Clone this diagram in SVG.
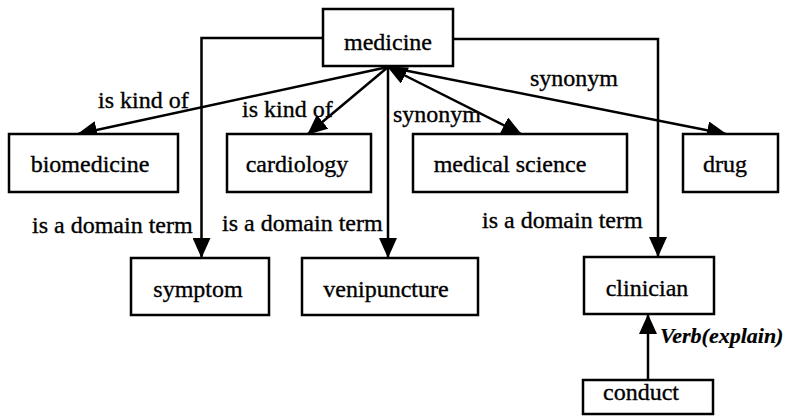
<svg xmlns="http://www.w3.org/2000/svg" width="790" height="417" viewBox="0 0 790 417">
<rect width="790" height="417" fill="#fff"/>
<marker id="ah" markerUnits="userSpaceOnUse" markerWidth="20" markerHeight="18" refX="19" refY="9" orient="auto-start-reverse">
<path d="M0,0 L20,9 L0,18 z" fill="#000"/>
</marker>
<g id="connectors" fill="none" stroke="#000" stroke-width="2.5">
<path d="M323,38 H201.5 V257" marker-end="url(#ah)"/>
<path d="M453,39 H658 V256" marker-end="url(#ah)"/>
<path d="M388,67 V257" marker-end="url(#ah)"/>
<path d="M388,67 L78,134" marker-end="url(#ah)"/>
<path d="M388,67 L308,134" marker-end="url(#ah)"/>
<path d="M388,67 L521,134" marker-start="url(#ah)" marker-end="url(#ah)"/>
<path d="M388,67 L726,134" marker-end="url(#ah)"/>
<path d="M648,380 V315" marker-end="url(#ah)"/>
</g>
<text x="98" y="108" font-family="Times New Roman" font-size="24" stroke="#000" stroke-width="0.35">is kind of</text>
<text x="242" y="117" font-family="Times New Roman" font-size="24" stroke="#000" stroke-width="0.35">is kind of</text>
<text x="393" y="122" font-family="Times New Roman" font-size="24" stroke="#000" stroke-width="0.35">synonym</text>
<text x="530" y="86" font-family="Times New Roman" font-size="24" stroke="#000" stroke-width="0.35">synonym</text>
<text x="32" y="233" font-family="Times New Roman" font-size="24" stroke="#000" stroke-width="0.35">is a domain term</text>
<text x="222" y="231" font-family="Times New Roman" font-size="24" stroke="#000" stroke-width="0.35">is a domain term</text>
<text x="482" y="228" font-family="Times New Roman" font-size="24" stroke="#000" stroke-width="0.35">is a domain term</text>
<text x="660" y="343" font-family="Times New Roman" font-style="italic" font-weight="bold" font-size="22" stroke="#000" stroke-width="0.2">Verb(explain)</text>
<g id="medicine"><rect x="323" y="9" width="130" height="57" fill="#fff" stroke="#000" stroke-width="2.5"/><text x="388" y="50" text-anchor="middle" font-family="Times New Roman" font-size="24" stroke="#000" stroke-width="0.35">medicine</text></g>
<g id="biomedicine"><rect x="9" y="134" width="169" height="58" fill="#fff" stroke="#000" stroke-width="2.5"/><text x="90" y="172" text-anchor="middle" font-family="Times New Roman" font-size="24" stroke="#000" stroke-width="0.35">biomedicine</text></g>
<g id="cardiology"><rect x="227" y="134" width="144" height="58" fill="#fff" stroke="#000" stroke-width="2.5"/><text x="297" y="172" text-anchor="middle" font-family="Times New Roman" font-size="24" stroke="#000" stroke-width="0.35">cardiology</text></g>
<g id="medical-science"><rect x="413" y="134" width="214" height="58" fill="#fff" stroke="#000" stroke-width="2.5"/><text x="510" y="172" text-anchor="middle" font-family="Times New Roman" font-size="24" stroke="#000" stroke-width="0.35">medical science</text></g>
<g id="drug"><rect x="683" y="134" width="95" height="58" fill="#fff" stroke="#000" stroke-width="2.5"/><text x="725" y="172" text-anchor="middle" font-family="Times New Roman" font-size="24" stroke="#000" stroke-width="0.35">drug</text></g>
<g id="symptom"><rect x="131" y="258" width="138" height="57" fill="#fff" stroke="#000" stroke-width="2.5"/><text x="198" y="297" text-anchor="middle" font-family="Times New Roman" font-size="24" stroke="#000" stroke-width="0.35">symptom</text></g>
<g id="venipuncture"><rect x="302" y="258" width="176" height="57" fill="#fff" stroke="#000" stroke-width="2.5"/><text x="386" y="297" text-anchor="middle" font-family="Times New Roman" font-size="24" stroke="#000" stroke-width="0.35">venipuncture</text></g>
<g id="clinician"><rect x="584" y="257" width="130" height="57" fill="#fff" stroke="#000" stroke-width="2.5"/><text x="647" y="296" text-anchor="middle" font-family="Times New Roman" font-size="24" stroke="#000" stroke-width="0.35">clinician</text></g>
<g id="conduct"><rect x="583" y="380" width="130" height="34" fill="#fff" stroke="#000" stroke-width="2.5"/><text x="641" y="400" text-anchor="middle" font-family="Times New Roman" font-size="24" stroke="#000" stroke-width="0.35">conduct</text></g>
</svg>
